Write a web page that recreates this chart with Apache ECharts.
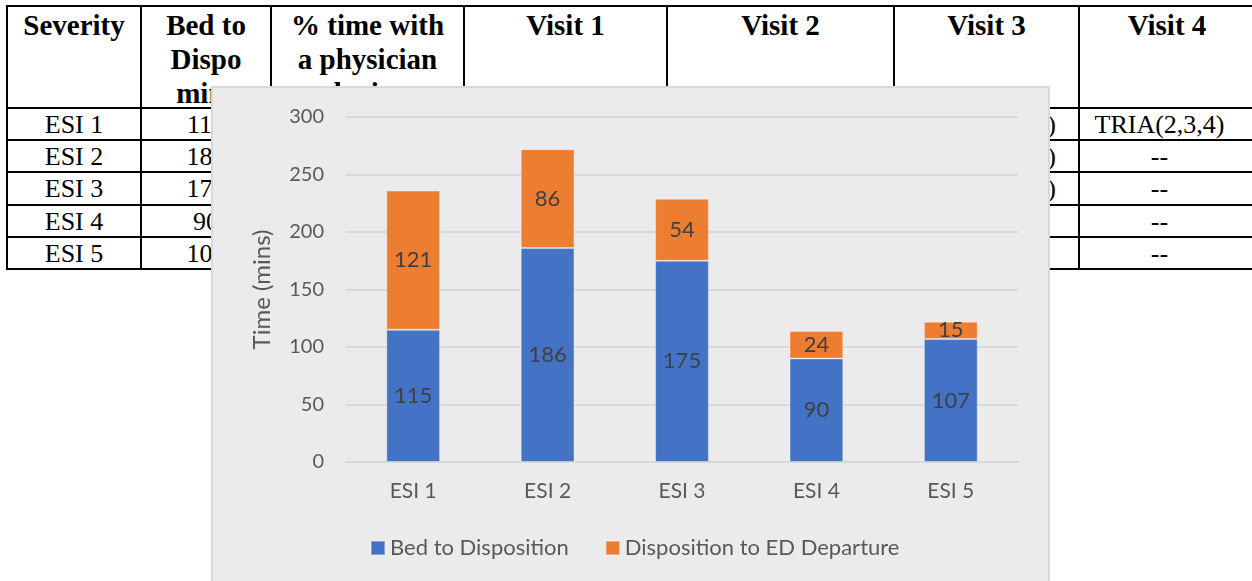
<!DOCTYPE html>
<html>
<head>
<meta charset="utf-8">
<script src="https://cdn.jsdelivr.net/npm/echarts@6/dist/echarts.min.js"></script>
<style>
  html, body { margin: 0; padding: 0; width: 1252px; height: 581px; overflow: hidden; background: #fff; }
  #table { position: absolute; left: 0; top: 0; width: 1252px; height: 581px; }
  .hl { position: absolute; height: 2px; background: #000; }
  .vl { position: absolute; width: 2px; background: #000; }
  .cell { position: absolute; text-align: center; font-family: "Liberation Serif", "Times New Roman", serif; color: #000; white-space: nowrap; overflow: hidden; }
  .head { font-weight: bold; font-size: 29px; line-height: 34px; padding-top: 2px; box-sizing: border-box; }
  .body { font-size: 26px; }
  #panel { position: absolute; left: 211px; top: 86px; width: 839px; height: 520px; background: #ebebeb; border: 2px solid #d9d9d9; box-sizing: border-box; }
  #chart { position: absolute; left: 213px; top: 88px; width: 835px; height: 500px; }
</style>
</head>
<body>
<div id="table"></div>
<div id="panel"></div>
<div id="chart"></div>
<script>
// Chart data: ED time per severity level, stacked
const categories = ['ESI 1', 'ESI 2', 'ESI 3', 'ESI 4', 'ESI 5'];
const bedToDisposition = [115, 186, 175, 90, 107];
const dispositionToDeparture = [121, 86, 54, 24, 15];
const seriesNames = ['Bed to Disposition', 'Disposition to ED Departure'];
const yTicks = { min: 0, max: 300, interval: 50 };
const yAxisTitle = 'Time (mins)';

// Background table content
const tableHeaders = [
  ['Severity'],
  ['Bed to', 'Dispo', 'mins'],
  ['% time with', 'a physician', 'during'],
  ['Visit 1'], ['Visit 2'], ['Visit 3'], ['Visit 4']
];
const tableRowLabels = ['ESI 1', 'ESI 2', 'ESI 3', 'ESI 4', 'ESI 5'];
const tableBedToDispo = ['115', '186', '175', '90', '107'];
const tableVisit3Tail = ['0)', ')', ')', '', ''];
const tableVisit4 = ['TRIA(2,3,4)', '--', '--', '--', '--'];

// Table grid geometry
const colX = [7, 141, 271, 464, 667, 894, 1079, 1255];
const lastBodyRight = 1240;
const rowY = [6, 108, 140, 172, 205, 237, 269];

const tbl = document.getElementById('table');
function addDiv(cls, css, text) {
  const d = document.createElement('div');
  d.className = cls;
  Object.assign(d.style, css);
  if (text !== undefined) d.innerHTML = text;
  tbl.appendChild(d);
  return d;
}
rowY.forEach(y => addDiv('hl', { left: '6px', top: (y - 1) + 'px', width: '1260px' }));
colX.slice(0, 7).forEach(x => addDiv('vl', { left: (x - 1) + 'px', top: '5px', height: (rowY[6] - 4) + 'px' }));

tableHeaders.forEach((lines, i) => {
  addDiv('cell head', {
    left: colX[i] + 'px', width: (colX[i + 1] - colX[i]) + 'px',
    top: rowY[0] + 'px', height: (rowY[1] - rowY[0]) + 'px'
  }, lines.join('<br>'));
});

tableRowLabels.forEach((lab, r) => {
  const top = rowY[r + 1], h = rowY[r + 2] - rowY[r + 1];
  const base = { top: top + 'px', height: h + 'px', lineHeight: (h + 1) + 'px' };
  addDiv('cell body', Object.assign({ left: colX[0] + 'px', width: (colX[1] - colX[0]) + 'px' }, base), lab);
  addDiv('cell body', Object.assign({ left: colX[1] + 'px', width: (colX[2] - colX[1]) + 'px' }, base), tableBedToDispo[r]);
  addDiv('cell body', Object.assign({ left: colX[5] + 'px', width: (colX[6] - colX[5]) + 'px',
    textAlign: 'right', paddingRight: '23px', boxSizing: 'border-box' }, base), tableVisit3Tail[r]);
  addDiv('cell body', Object.assign({ left: colX[6] + 'px', width: (lastBodyRight - colX[6]) + 'px' }, base), tableVisit4[r]);
});

// Stacked column chart
const font = 'Lato, "Open Sans", sans-serif';
const labelStyle = { show: true, position: 'inside', color: '#404040', fontSize: 22, fontFamily: font };
const chart = echarts.init(document.getElementById('chart'), null, { renderer: 'canvas' });
chart.setOption({
  animation: false,
  backgroundColor: 'transparent',
  textStyle: { fontFamily: font },
  color: ['#4472c4', '#ed7d31'],
  grid: { left: 133, top: 29, width: 672, height: 345 },
  legend: {
    left: 152, top: 444,
    itemWidth: 14, itemHeight: 14, itemGap: 36,
    icon: 'rect',
    textStyle: { fontFamily: font, fontSize: 22, color: '#595959' },
    data: seriesNames
  },
  xAxis: {
    type: 'category',
    data: categories,
    axisLine: { lineStyle: { color: '#d9d9d9', width: 2 } },
    axisTick: { show: false },
    axisLabel: { color: '#595959', fontSize: 21, margin: 19, fontFamily: font }
  },
  yAxis: {
    type: 'value',
    min: yTicks.min, max: yTicks.max, interval: yTicks.interval,
    name: yAxisTitle,
    nameLocation: 'middle',
    nameGap: 72,
    nameTextStyle: { color: '#595959', fontSize: 24, fontFamily: font },
    axisLine: { show: false },
    axisTick: { show: false },
    axisLabel: { color: '#595959', fontSize: 20, margin: 22, fontFamily: font },
    splitLine: { lineStyle: { color: '#d9d9d9', width: 2 } }
  },
  series: [
    {
      name: seriesNames[0], type: 'bar', stack: 'total',
      data: bedToDisposition, barCategoryGap: '60%',
      itemStyle: { borderColor: 'rgba(255,255,255,0.35)', borderWidth: 1 },
      label: labelStyle
    },
    {
      name: seriesNames[1], type: 'bar', stack: 'total',
      data: dispositionToDeparture, barCategoryGap: '60%',
      itemStyle: { borderColor: 'rgba(255,255,255,0.35)', borderWidth: 1 },
      label: labelStyle
    }
  ]
});
</script>
</body>
</html>
